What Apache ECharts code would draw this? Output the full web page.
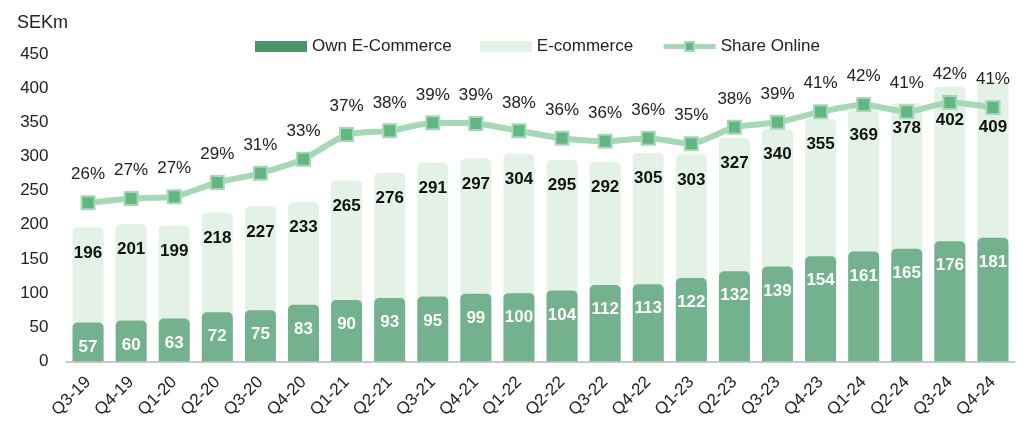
<!DOCTYPE html>
<html>
<head>
<meta charset="utf-8">
<script src="https://cdn.jsdelivr.net/npm/echarts@6/dist/echarts.min.js"></script>
<style>
  html, body { margin: 0; padding: 0; background: #fff; }
  #chart { width: 1027px; height: 421px; }
</style>
</head>
<body>
<div id="chart"></div>
<script>
// quarters
var quarters = ['Q3-19', 'Q4-19', 'Q1-20', 'Q2-20', 'Q3-20', 'Q4-20', 'Q1-21', 'Q2-21', 'Q3-21', 'Q4-21', 'Q1-22',
    'Q2-22', 'Q3-22', 'Q4-22', 'Q1-23', 'Q2-23', 'Q3-23', 'Q4-23', 'Q1-24', 'Q2-24', 'Q3-24', 'Q4-24'];
// total e-commerce, SEKm
var ecommerce = [196, 201, 199, 218, 227, 233, 265, 276, 291, 297, 304, 295, 292, 305, 303, 327, 340, 355, 369, 378, 402, 409];
// own e-commerce, SEKm
var ownEcommerce = [57, 60, 63, 72, 75, 83, 90, 93, 95, 99, 100, 104, 112, 113, 122, 132, 139, 154, 161, 165, 176, 181];
// share online, % (labels are rounded)
var shareOnline = [25.8, 26.5, 26.8, 29.1, 30.6, 32.9, 36.9, 37.5, 38.8, 38.7, 37.5, 36.3, 35.8, 36.3, 35.4, 38.1, 38.9, 40.6, 41.8, 40.6, 42.1, 41.3];
var yTicks = [0, 450, 50];

var font = 'Arial, "Liberation Sans", sans-serif';
var myChart = echarts.init(document.getElementById('chart'));

// total labels pushed down where the line would cover them
var labelPush = { 'Q3-24': 25, 'Q4-24': 37 };
var ecomData = ecommerce.map(function (v, i) {
    var d = { value: v };
    if (labelPush[quarters[i]]) {
        d.label = { distance: labelPush[quarters[i]] };
    }
    return d;
});

var option = {
    animation: false,
    textStyle: { fontFamily: font },
    title: {
        text: 'SEKm',
        left: 12,
        top: 9,
        textStyle: { fontSize: 18, fontWeight: 'normal', color: '#222', fontFamily: font }
    },
    legend: {
        left: 250,
        top: 33,
        itemWidth: 52,
        itemHeight: 11,
        itemGap: 28,
        textStyle: { fontSize: 17, color: '#222', fontFamily: font },
        data: [
            { name: 'Own E-Commerce', icon: 'rect', itemStyle: { color: '#4a9467' } },
            { name: 'E-commerce', icon: 'rect' },
            { name: 'Share Online', lineStyle: { width: 5 } }
        ]
    },
    grid: { left: 66.5, right: 12.5, top: 54, bottom: 58 },
    xAxis: {
        type: 'category',
        data: quarters,
        axisLine: { lineStyle: { color: '#c8c8c8', width: 2 } },
        axisTick: { show: false },
        axisLabel: { rotate: 45, fontSize: 17, color: '#222', margin: 18, fontFamily: font, interval: 0 }
    },
    yAxis: [{
        type: 'value',
        min: yTicks[0],
        max: yTicks[1],
        interval: yTicks[2],
        splitLine: { show: false },
        axisLine: { show: false },
        axisTick: { show: false },
        axisLabel: { fontSize: 17, color: '#222', margin: 18, fontFamily: font }
    }, {
        type: 'value',
        min: 0,
        max: 50,
        show: false,
        splitLine: { show: false }
    }],
    series: [{
        name: 'E-commerce',
        type: 'bar',
        barWidth: 31,
        z: 1,
        itemStyle: { color: '#e3f1e7', borderRadius: [5, 5, 0, 0] },
        label: {
            show: true,
            position: 'insideTop',
            distance: 17,
            fontSize: 17,
            fontWeight: 'bold',
            color: '#111',
            fontFamily: font
        },
        data: ecomData
    }, {
        name: 'Own E-Commerce',
        type: 'bar',
        barWidth: 31,
        barGap: '-100%',
        z: 2,
        itemStyle: { color: '#74b18f', borderRadius: [5, 5, 0, 0] },
        label: {
            show: true,
            position: 'insideTop',
            distance: 16,
            fontSize: 17,
            fontWeight: 'bold',
            color: '#fff',
            fontFamily: font
        },
        data: ownEcommerce
    }, {
        name: 'Share Online',
        type: 'line',
        yAxisIndex: 1,
        z: 5,
        smooth: 0.2,
        symbol: 'rect',
        symbolSize: 13,
        lineStyle: { color: '#a6d7b8', width: 6 },
        itemStyle: { color: '#62b781', borderColor: '#a6d7b8', borderWidth: 2 },
        label: {
            show: true,
            position: 'top',
            distance: 12,
            fontSize: 17,
            color: '#222',
            fontFamily: font,
            formatter: function (p) { return Math.round(p.value) + '%'; }
        },
        data: shareOnline
    }]
};

myChart.setOption(option);
window.addEventListener('resize', function () {
    myChart.resize();
});
</script>
</body>
</html>
